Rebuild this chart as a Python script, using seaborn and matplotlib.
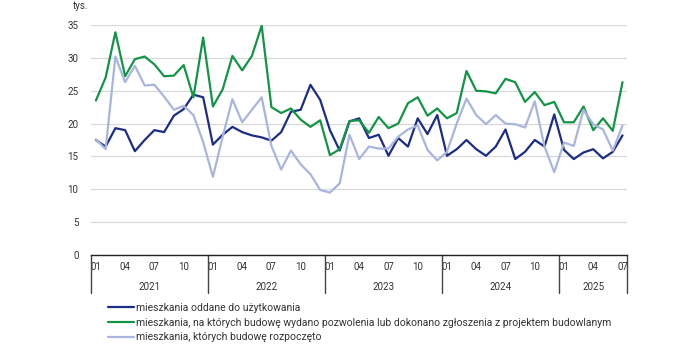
import pandas as pd
import matplotlib
matplotlib.use('Agg')
import matplotlib.pyplot as plt
import matplotlib.transforms as mtransforms
import seaborn as sns

# Monthly data, thousands of dwellings, 2021-01 .. 2025-07
years = [2021, 2022, 2023, 2024, 2025]
months_in_year = [12, 12, 12, 12, 7]

oddane = [17.5, 16.5, 19.3, 19.0, 15.8, 17.5, 19.0, 18.7, 21.2, 22.2, 24.4, 24.0,
          16.8, 18.3, 19.5, 18.7, 18.2, 17.9, 17.4, 18.7, 21.8, 22.1, 25.9, 23.6,
          19.0, 15.9, 20.3, 20.8, 17.8, 18.3, 15.1, 17.8, 16.5, 20.8, 18.4, 21.3,
          15.1, 16.1, 17.5, 16.1, 15.1, 16.5, 19.1, 14.6, 15.7, 17.5, 16.5, 21.4,
          16.0, 14.6, 15.6, 16.1, 14.7, 15.7, 18.2]
pozwolenia = [23.5, 27.0, 33.9, 27.2, 29.8, 30.2, 29.0, 27.2, 27.3, 28.9, 24.0, 33.1,
              22.6, 25.2, 30.3, 28.1, 30.3, 34.9, 22.5, 21.6, 22.3, 20.6, 19.5, 20.5,
              15.2, 16.1, 20.4, 20.5, 18.6, 21.0, 19.3, 20.0, 23.1, 24.0, 21.2, 22.3,
              20.8, 21.6, 28.0, 25.0, 24.9, 24.6, 26.8, 26.3, 23.3, 24.8, 22.8, 23.3,
              20.2, 20.2, 22.6, 19.0, 20.8, 18.9, 26.3]
rozpoczete = [17.6, 16.1, 30.2, 26.3, 28.8, 25.8, 25.9, 24.1, 22.1, 22.7, 21.3, 17.2,
              11.9, 18.0, 23.7, 20.2, 22.1, 24.0, 16.6, 13.0, 15.9, 13.8, 12.3, 9.9,
              9.5, 10.9, 18.3, 14.6, 16.5, 16.2, 16.2, 18.0, 19.1, 19.7, 16.0, 14.4,
              15.7, 20.0, 23.8, 21.3, 19.9, 21.3, 20.0, 19.9, 19.4, 23.4, 16.5, 12.6,
              17.1, 16.6, 22.1, 19.9, 19.1, 15.9, 19.7]

series_names = ['mieszkania oddane do użytkowania',
                'mieszkania, na których budowę wydano pozwolenia lub dokonano zgłoszenia z projektem budowlanym',
                'mieszkania, których budowę rozpoczęto']
colors = ['#1b2d86', '#149447', '#a9b5dc']

# build month index / labels
month_num = []
for n in months_in_year:
    month_num += list(range(1, n + 1))
idx = list(range(len(month_num)))

df = pd.DataFrame({
    'i': idx * 3,
    'value': oddane + pozwolenia + rozpoczete,
    'series': [series_names[0]] * len(idx) + [series_names[1]] * len(idx) + [series_names[2]] * len(idx),
})

sns.set_theme(style='white')
plt.rcParams['font.family'] = ['Roboto', 'DejaVu Sans']
text_col = '#333333'

fig = plt.figure(figsize=(7, 3.5), dpi=100)
ax = fig.add_axes([91 / 700, 95 / 350, 536.4 / 700, 230 / 350])

sns.lineplot(data=df, x='i', y='value', hue='series', hue_order=series_names,
             palette=colors, linewidth=1.6, ax=ax, legend=True)

ax.set_xlim(-0.5, len(idx) - 0.5)
ax.set_ylim(0, 35)
ax.set_yticks(range(0, 36, 5))
ax.yaxis.grid(True, color='#d9d9d9', linewidth=0.9)
ax.set_axisbelow(True)
for s in ['left', 'right', 'top']:
    ax.spines[s].set_visible(False)
ax.spines['bottom'].set_color('#222222')
ax.spines['bottom'].set_linewidth(1.0)
ax.tick_params(axis='y', length=0, pad=9, labelsize=7, labelcolor=text_col)

tick_pos = [i for i, m in zip(idx, month_num) if m in (1, 4, 7, 10)]
tick_lab = ['%02d' % month_num[i] for i in tick_pos]
ax.set_xticks(tick_pos)
ax.set_xticklabels(tick_lab)
ax.tick_params(axis='x', length=0, pad=5, labelsize=7, labelcolor=text_col)
ax.set_xlabel('')
ax.set_ylabel('')

# year separators and labels
trans = mtransforms.blended_transform_factory(ax.transData, ax.transAxes)
start = 0
bounds = [-0.5]
for y, n in zip(years, months_in_year):
    ax.text(start + (n - 1) / 2, -0.139, str(y), transform=trans, ha='center', va='center',
            fontsize=7, color=text_col)
    start += n
    bounds.append(start - 0.5)
for b in bounds:
    ax.plot([b, b], [0, -0.165], transform=trans, color='#444444', linewidth=1.0, clip_on=False)

fig.text(73 / 700, 1 - 6 / 350, 'tys.', ha='left', va='center', fontsize=7, color=text_col)

sns.move_legend(ax, 'upper left', bbox_to_anchor=(108 / 700, 1 - 303 / 350),
                bbox_transform=fig.transFigure, frameon=False, title=None,
                fontsize=7.5, handlelength=2.5, handletextpad=0.2, labelspacing=0.45,
                borderaxespad=0, borderpad=0)
for t in ax.get_legend().get_texts():
    t.set_color(text_col)

fig.savefig('out.png', dpi=100)
